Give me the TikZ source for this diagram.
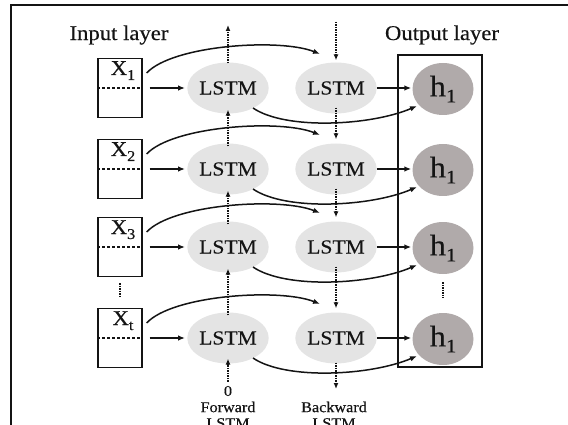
\documentclass[tikz,border=0pt]{standalone}
\usepackage{fontspec}
\setmainfont{Liberation Serif}[FakeStretch=1.08,FakeBold=0.4]
\usetikzlibrary{shapes.geometric,arrows.meta,calc}
\definecolor{lstmfill}{RGB}{228,228,228}
\definecolor{hfill}{RGB}{176,170,170}
\definecolor{ink}{RGB}{20,20,20}
\newcommand\lowsub[3]{\raisebox{-#2pt}{\fontsize{#1}{#1}\selectfont #3}}
\begin{document}
\begin{tikzpicture}[x=1pt,y=-1pt,
 inbox/.style={draw=ink, line width=1.3pt, minimum width=44pt, minimum height=59pt, inner sep=0pt},
 fwd/.style={ellipse, fill=lstmfill, minimum width=62pt, minimum height=51pt, inner sep=0pt, font=\fontsize{20}{24}\selectfont, text=ink},
 hnode/.style={ellipse, fill=hfill, minimum width=61pt, minimum height=52pt, inner sep=0pt, font=\fontsize{30}{34}\selectfont, text=ink},
 arr/.style={draw=ink, line width=1.5pt, -{Latex[length=7pt,width=5.5pt]}},
 dotarr/.style={draw=ink, line width=2pt, dash pattern=on 1.5pt off 1pt, -{Latex[length=6pt,width=5pt]}},
 dots/.style={draw=ink, line width=2pt, dash pattern=on 1.5pt off 1pt},
 lbl/.style={font=\fontsize{21}{24}\selectfont, inner sep=0pt, text=ink},
 small/.style={font=\fontsize{15}{16}\selectfont, align=center, inner sep=0pt, text=ink}
]
\useasboundingbox (0,0) rectangle (568,425);
\clip (0,0) rectangle (568,425);
% frame
\coordinate (fa) at (11,425);
\coordinate (fb) at (11,5);
\coordinate (fc) at (568,5);
\draw[ink, line width=1.1pt] (fa) -- (fb) -- (fc);
% labels
\node[lbl] (inl) at (119,35) {Input layer};
\node[lbl] (outl) at (442,35) {Output layer};
% output box
\node[draw=ink, line width=1.3pt, minimum width=84pt, minimum height=312pt, inner sep=0pt] (outbox) at (440,211) {};
% rows
\foreach \i/\r/\s in {1/88/1,2/169/2,3/247/3,4/338/t}{
  \node[inbox] (x\i) at (120,\r) {};
  \draw[ink, line width=1.1pt, dash pattern=on 3pt off 2pt] (x\i.west) -- (x\i.east);
  \node[lbl, anchor=base] (xl\i) at (123,\r-13) {X\lowsub{15}{5}{\s}};
  \node[fwd] (f\i) at (228,\r) {LSTM};
  \node[fwd] (b\i) at (336,\r) {LSTM};
  \node[hnode] (h\i) at (443,\r+1) {h\lowsub{19}{6}{1}};
}
\foreach \i in {1,2,3,4}{
  \draw[arr] ($(x\i.east)+(7,0)$) -- ($(f\i.west)+(-2,0)$);
  \draw[arr] (b\i.east) -- ($(b\i.east -| h\i.west)+(-1,0)$);
  \draw[arr] ($(x\i.east)+(4,-15)$) .. controls ($(x\i.east)+(30,-43)$) and ($(b\i.center)+(-56,-50)$) .. ($(b\i.center)+(-16,-34)$);
  \draw[arr] ($(f\i.center)+(25,20)$) .. controls ($(f\i.center)+(57,42)$) and ($(h\i.center)+(-73,37)$) .. ($(h\i.center)+(-26,17)$);
}
% forward dotted arrows (upward)
\coordinate (ftop) at (228,25);
\draw[dotarr] ($(f1.north)+(0,1)$) -- (ftop);
\foreach \i/\j in {1/2,2/3,3/4}{
  \draw[dotarr] ($(f\j.north)+(0,3)$) -- ($(f\i.south)+(0,-4)$);
  \draw[dotarr] ($(b\i.south)+(0,-6)$) -- ($(b\j.north)+(0,-4)$);
}
\node[small] (zero) at (228,391) {0};
\draw[dotarr] (zero.north) ++(0,-4) -- ($(f4.south)+(0,-5)$);
% backward dotted arrows (downward)
\coordinate (btop) at (336,22);
\draw[dotarr] (btop) -- ($(b1.north)+(0,-2)$);
\coordinate (bbot) at (336,389);
\draw[dotarr] ($(b4.south)+(0,-1)$) -- (bbot);
% vertical dots
\draw[dots] ($(x3.south)+(0,6)$) -- ($(x4.north)+(0,-10)$);
\draw[dots] ($(h3.south)+(0,8)$) -- ($(h4.north)+(0,-15)$);
% bottom labels
\node[small] (fwl) at (228,415) {Forward\\LSTM};
\node[small] (bwl) at (334,415) {Backward\\LSTM};
\end{tikzpicture}
\end{document}
